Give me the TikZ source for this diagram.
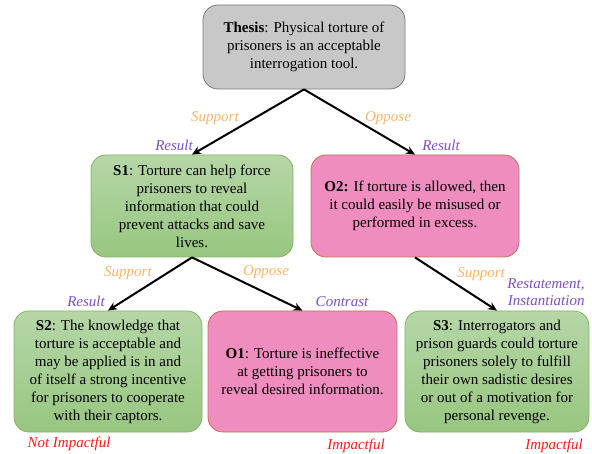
\documentclass[tikz,border=0pt]{standalone}
\usepackage{fontspec}
\setmainfont{Liberation Serif}
\usetikzlibrary{arrows.meta}
\definecolor{gtop}{HTML}{B5D7A7}
\definecolor{gbot}{HTML}{98C680}
\definecolor{gline}{HTML}{82B366}
\definecolor{pfill}{HTML}{EE8DBE}
\definecolor{pline}{HTML}{C0714F}
\definecolor{tfill}{HTML}{C8C8C8}
\definecolor{tline}{HTML}{7A7A7A}
\definecolor{lorange}{HTML}{FFB366}
\definecolor{lpurple}{HTML}{7E4FC0}
\definecolor{lred}{HTML}{FF1A1A}
\tikzset{
  box/.style={rounded corners=15pt, align=center, inner sep=0pt, font=\fontsize{15}{18}\selectfont, line width=0.8pt},
  greenbox/.style={box, draw=gline, top color=gtop, bottom color=gbot},
  pinkbox/.style={box, draw=pline, fill=pfill},
  graybox/.style={box, draw=tline, fill=tfill},
  link/.style={line width=2pt, -{Stealth[length=9pt,width=8pt]}},
  lbl/.style={font=\fontsize{15}{18}\selectfont\itshape, inner sep=0pt},
  rel/.style={lbl, text=lorange},
  dis/.style={lbl, text=lpurple},
  imp/.style={lbl, text=lred}
}
\begin{document}
\begin{tikzpicture}[x=1pt,y=-1pt]
\useasboundingbox (0,0) rectangle (592,454);
\node[graybox, minimum width=202pt, minimum height=84pt] (T) at (304,47)
  {\textbf{Thesis}: Physical torture of\\prisoners is an acceptable\\interrogation tool.};
\node[greenbox, minimum width=202pt, minimum height=102pt] (S1) at (192,206)
  {\textbf{S1}: Torture can help force\\prisoners to reveal\\information that could\\prevent attacks and save\\lives.};
\node[pinkbox, minimum width=208pt, minimum height=102pt] (O2) at (415,206)
  {\textbf{O2:} If torture is allowed, then\\it could easily be misused or\\performed in excess.};
\node[greenbox, minimum width=188pt, minimum height=121pt] (S2) at (108,371.5)
  {\textbf{S2}: The knowledge that\\torture is acceptable and\\may be applied is in and\\of itself a strong incentive\\for prisoners to cooperate\\with their captors.};
\node[pinkbox, minimum width=189pt, minimum height=121pt] (O1) at (302.5,371.5)
  {\textbf{O1}: Torture is ineffective\\at getting prisoners to\\reveal desired information.};
\node[greenbox, minimum width=184pt, minimum height=121pt] (S3) at (497,371.5)
  {\textbf{S3}: Interrogators and\\prison guards could torture\\prisoners solely to fulfill\\their own sadistic desires\\or out of a motivation for\\personal revenge.};

\draw[link] (T.south) -- (S1.north);
\draw[link] (T.south) -- (O2.north);
\draw[link] (S1.south) -- (S2.north);
\draw[link] (S1.south) -- (O1.north);
\draw[link] (O2.south) -- (S3.north);

\node[rel] (l1) at (215,118) {Support};
\node[dis] (l2) at (174,145) {Result};
\node[rel] (l3) at (388,118) {Oppose};
\node[dis] (l4) at (441,145) {Result};
\node[rel] (l5) at (128,273) {Support};
\node[rel] (l6) at (266,272) {Oppose};
\node[dis] (l7) at (86,301) {Result};
\node[dis] (l8) at (342,302) {Contrast};
\node[rel] (l9) at (481,274) {Support};
\node[dis, align=right, font=\fontsize{15}{17}\selectfont\itshape] (l10) at (546,292) {Restatement,\\Instantiation};
\node[imp] (l11) at (69,444) {Not Impactful};
\node[imp] (l12) at (356,446) {Impactful};
\node[imp] (l13) at (554,446) {Impactful};
\end{tikzpicture}
\end{document}
